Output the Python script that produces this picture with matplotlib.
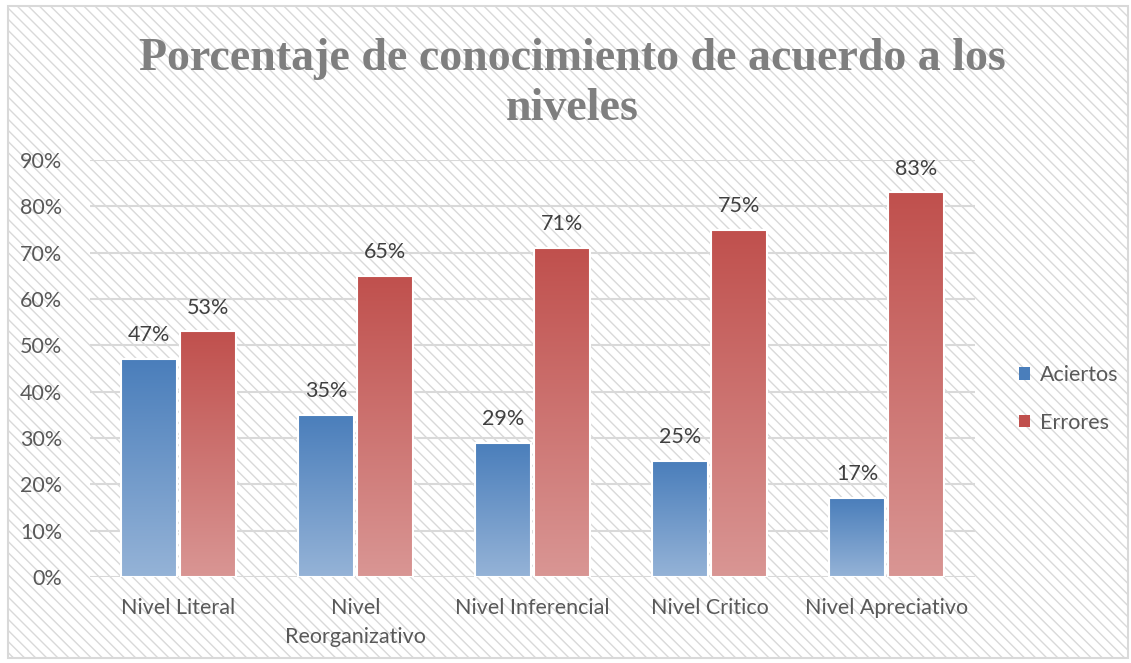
import numpy as np
import matplotlib.pyplot as plt
from matplotlib.patches import Rectangle, Patch
from matplotlib.colors import to_rgb

# Parametres generaux
plt.rcParams['font.family'] = ['Lato', 'DejaVu Sans']
plt.rcParams['hatch.linewidth'] = 1.0
plt.rcParams['hatch.color'] = '#dedede'

categorias = ['Nivel Literal', 'Nivel\nReorganizativo', 'Nivel Inferencial',
              'Nivel Critico', 'Nivel Apreciativo']
aciertos = [0.47, 0.35, 0.29, 0.25, 0.17]
errores = [0.53, 0.65, 0.71, 0.75, 0.83]
series = ['Aciertos', 'Errores']
yticks = [0.0, 0.1, 0.2, 0.3, 0.4, 0.5, 0.6, 0.7, 0.8, 0.9]

col_top = {'Aciertos': '#4a7ebb', 'Errores': '#c0504d'}
col_bot = {'Aciertos': '#95b3d7', 'Errores': '#d99694'}

W, H = 1131, 663
fig = plt.figure(figsize=(W / 100, H / 100), dpi=100)
fig.patch.set_facecolor('white')

# fond hachure + bordure
fond = Rectangle((8 / W, 5 / H), (1128 - 8) / W, (657 - 5) / H,
                 transform=fig.transFigure, facecolor='white',
                 edgecolor='#d9d9d9', hatch='\\\\\\', linewidth=0, zorder=-2)
fig.patches.append(fond)
bord = Rectangle((8 / W, 5 / H), (1128 - 8) / W, (657 - 5) / H,
                 transform=fig.transFigure, facecolor='none',
                 edgecolor='#d9d9d9', linewidth=1.5, zorder=-1)
fig.patches.append(bord)

ax = fig.add_axes([90 / W, 1 - 577 / H, (975 - 90) / W, (577 - 160) / H])
ax.set_facecolor('none')

x = np.arange(len(categorias))
larg = 0.32
dec = 0.166
fs = 15.5


def gradient_bar(ax, xc, h, nom):
    c0 = np.array(to_rgb(col_bot[nom]))
    c1 = np.array(to_rgb(col_top[nom]))
    t = np.linspace(0, 1, 256)[:, None]
    img = (c0[None, :] * (1 - t) + c1[None, :] * t)[:, None, :]
    bar = ax.bar(xc, h, width=larg, facecolor='none', edgecolor='white',
                 linewidth=1.5, zorder=3)[0]
    im = ax.imshow(img, extent=[xc - larg / 2, xc + larg / 2, 0, h],
                   origin='lower', aspect='auto', interpolation='bilinear',
                   zorder=2)
    im.set_clip_path(bar)
    ax.annotate(f'{h*100:.0f}%', (xc, h), xytext=(0, 10),
                textcoords='offset points', ha='center', va='bottom',
                fontsize=fs, color='#404040')


for i in range(len(categorias)):
    gradient_bar(ax, x[i] - dec, aciertos[i], 'Aciertos')
    gradient_bar(ax, x[i] + dec, errores[i], 'Errores')

ax.set_xlim(-0.5, len(categorias) - 0.5)
ax.set_ylim(0, 0.9)
ax.set_yticks(yticks)
ax.set_yticklabels([f'{v*100:.0f}%' for v in yticks])
ax.set_xticks(x)
ax.set_xticklabels(categorias, linespacing=1.6)
ax.tick_params(length=0, labelsize=fs, labelcolor='#595959')
ax.tick_params(axis='y', pad=20)
ax.tick_params(axis='x', pad=15)
ax.grid(axis='y', color='#d9d9d9', linewidth=1.5, zorder=1)
ax.set_axisbelow(True)
for s in ax.spines.values():
    s.set_visible(False)

fig.text(0.506, 0.874, 'Porcentaje de conocimiento de acuerdo a los\nniveles',
         ha='center', va='center', fontsize=33, fontweight='bold',
         family='Liberation Serif', color='#7f7f7f', linespacing=1.25)

handles = [Patch(facecolor=col_top[s], edgecolor='none') for s in series]
fig.legend(handles, series, loc='center left',
           bbox_to_anchor=(1000 / W, 1 - 399 / H), frameon=False,
           fontsize=fs, labelcolor='#595959', handlelength=0.5,
           handleheight=0.5, handletextpad=0.45, labelspacing=1.3)

plt.savefig('out.png', dpi=100)
